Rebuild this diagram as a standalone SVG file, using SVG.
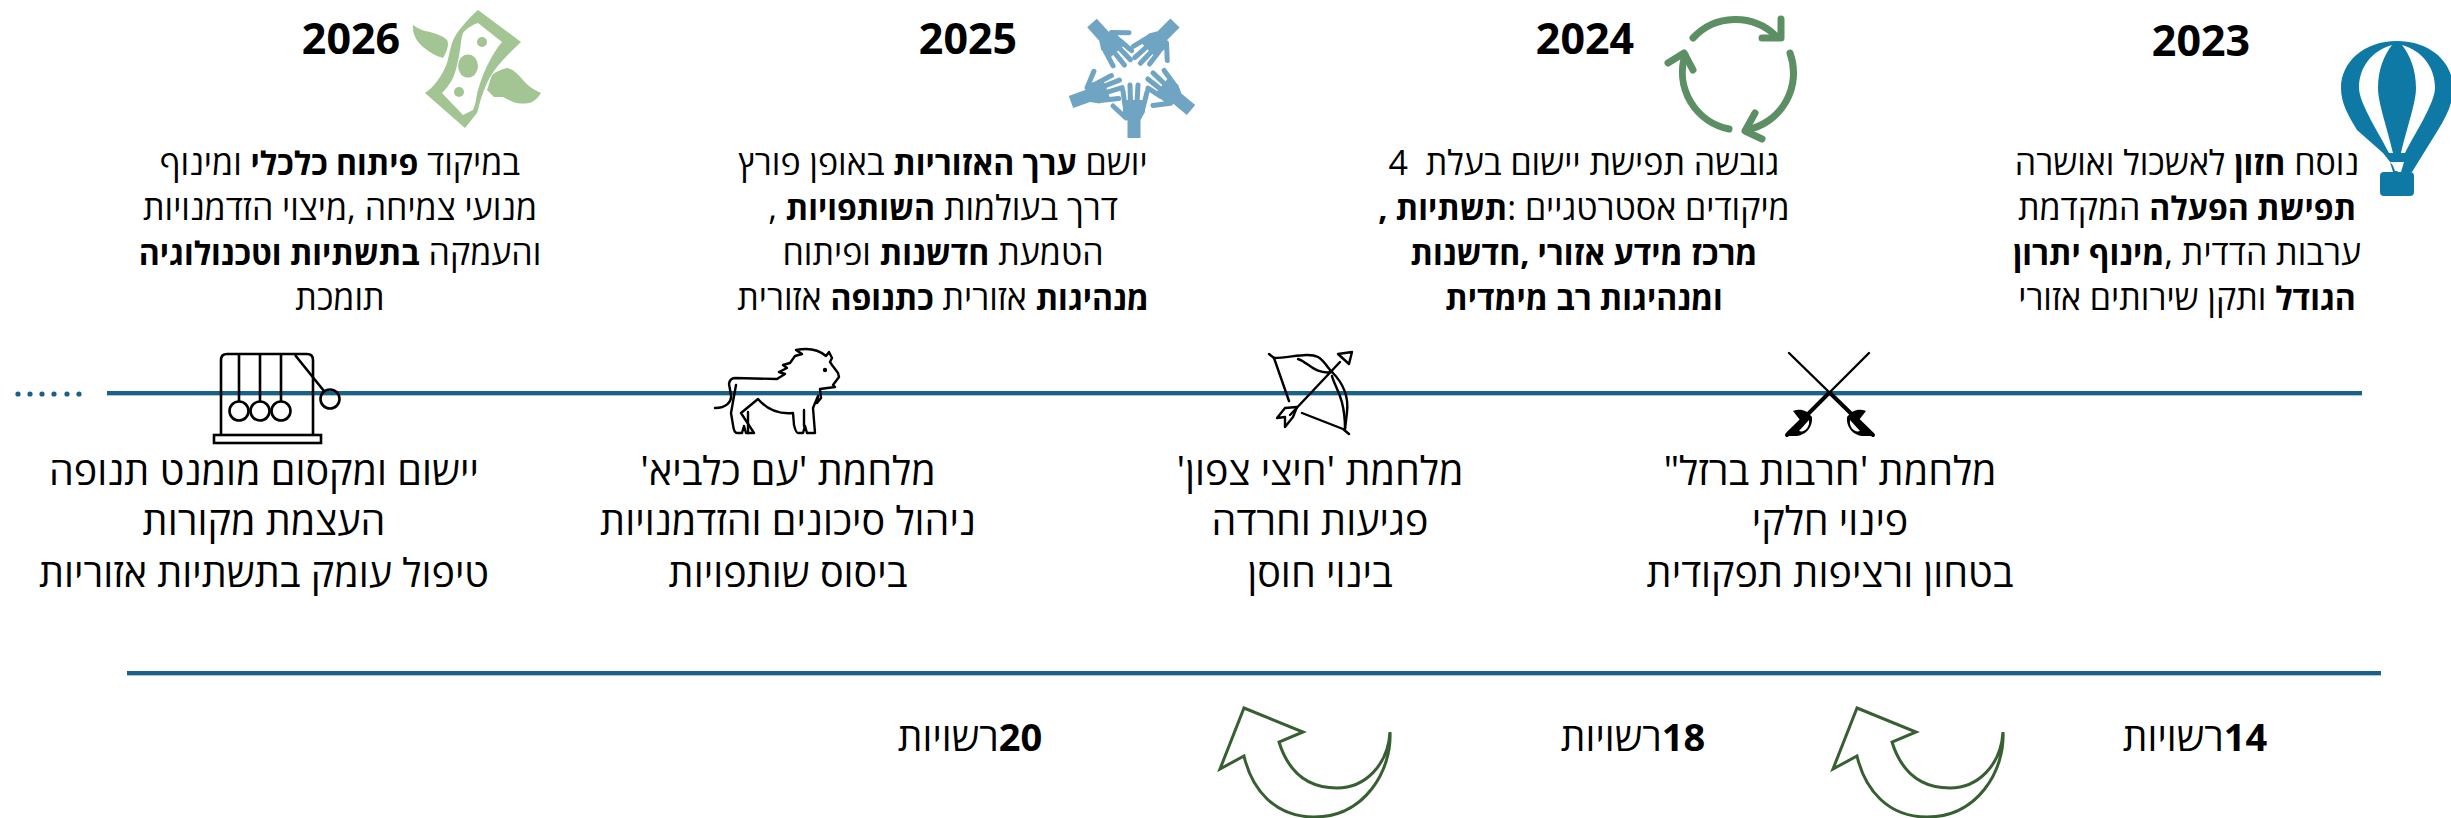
<svg xmlns="http://www.w3.org/2000/svg" xmlns:xlink="http://www.w3.org/1999/xlink" width="2451" height="818" viewBox="0 0 2451 818">
<style>
text{font-family:"Open Sans","Liberation Sans",sans-serif;fill:#000;text-anchor:middle;direction:rtl}
.y{font-size:43px;font-weight:700;direction:ltr}
.b{font-size:34px}
.b tspan.s{font-size:32px;font-weight:700}
.w{font-size:39.5px}
.c{font-size:39px}
.c tspan.s{font-size:38px;font-weight:700}
.tl{fill:#1a6188}
.sh{fill:#a9c6d8}
.k{fill:none;stroke:#000;stroke-width:2.4;stroke-linecap:round;stroke-linejoin:round}
.cy{fill:none;stroke:#5c8f64;stroke-width:7;stroke-linecap:round;stroke-linejoin:round}
.ar{fill:#fff;stroke:#375f32;stroke-width:3;stroke-linejoin:miter}
.hand{fill:#6fa5c2;stroke:#6fa5c2}
.mo{fill:#a3c493}
</style>
<defs>
<g id="hand">
<path stroke="none" d="M-6.5 0V-18L-11 -25V-38H11V-26L6.5 -18V0Z"/>
<g fill="none" stroke-width="5" stroke-linecap="round"><path d="M-9 -32L-11 -47"/><path d="M-3.5 -35L-4 -53"/><path d="M3 -35L4 -53"/><path d="M9 -30L13 -46"/><path d="M-8 -20L-21 -32"/></g>
</g>
<path id="curl" d="M1244 708L1303 732L1279 742C1289 774 1309 788 1337 788C1365 788 1388 765 1390 732C1392 770 1365 817 1314 817C1275 817 1252 790 1244 756L1220 769Z"/>
</defs>

<g id="connectors">
<rect class="tl" x="107" y="391" width="2255" height="4"/><rect class="sh" x="107" y="395" width="2255" height="1"/>
<rect class="tl" x="127" y="671" width="2254" height="4"/><rect class="sh" x="127" y="675" width="2254" height="1"/>
<g class="tl"><circle cx="18" cy="394" r="2.6"/><circle cx="30" cy="394" r="2.6"/><circle cx="42" cy="394" r="2.6"/><circle cx="54" cy="394" r="2.6"/><circle cx="67" cy="394" r="2.6"/><circle cx="79" cy="394" r="2.6"/></g>
<use id="curve-arrow-1" xlink:href="#curl" href="#curl" class="ar"/>
<use id="curve-arrow-2" xlink:href="#curl" href="#curl" class="ar" transform="translate(613 0)"/>
</g>

<g id="node-2023">
<text class="y" x="2201" y="56">2023</text>
<path fill="#0f79a5" fill-rule="evenodd" d="M2397 41C2430 41 2453 62 2453 88C2453 103 2447 115 2438 130L2412 172H2410Q2414 172 2414 176V192Q2414 196 2410 196H2384Q2380 196 2380 192V176Q2380 172 2384 172H2393L2390 162H2404L2401 172H2398L2383 153L2357 130C2348 115 2341 103 2341 88C2341 62 2364 41 2397 41Z"/>
<path fill="#fff" d="M2392 45C2371 51 2359 68 2359 88C2359 103 2380 135 2389 153H2393C2387 127 2378 103 2378 88C2378 70 2384 55 2392 45ZM2402 45C2423 51 2435 68 2435 88C2435 103 2414 135 2405 153H2401C2407 127 2416 103 2416 88C2416 70 2410 55 2402 45ZM2392 163H2403L2400 171H2395Z"/>
<text class="b" x="2187" y="175">נוסח <tspan class="s">חזון</tspan> לאשכול ואושרה</text>
<text class="b" x="2187" y="220"><tspan class="s">תפישת הפעלה</tspan> המקדמת</text>
<text class="b" x="2187" y="265">ערבות הדדית ,<tspan class="s">מינוף יתרון</tspan></text>
<text class="b" x="2187" y="310"><tspan class="s">הגודל</tspan> ותקן שירותים אזורי</text>
</g>

<g id="node-2024">
<text class="y" x="1585" y="54">2024</text>
<g class="cy">
<path d="M1693 38A58 58 0 0 1 1776 36"/><path d="M1781 19V38H1762"/>
<path d="M1790 53A58 58 0 0 1 1746 130"/><path d="M1755 113L1745 131L1762 139"/>
<path d="M1729 129A58 58 0 0 1 1685 55"/><path d="M1668 63L1684 53L1693 70"/>
</g>
<text class="b" x="1584" y="175">גובשה תפישת יישום בעלת&#160; 4</text>
<text class="b" x="1584" y="220">מיקודים אסטרטגיים :<tspan class="s">תשתיות ,</tspan></text>
<text class="b" x="1584" y="265"><tspan class="s">מרכז מידע אזורי ,חדשנות</tspan></text>
<text class="b" x="1584" y="310"><tspan class="s">ומנהיגות רב מימדית</tspan></text>
</g>

<g id="node-2025">
<text class="y" x="968" y="54">2025</text>
<g class="hand">
<use xlink:href="#hand" href="#hand" transform="translate(1134 138)"/>
<use xlink:href="#hand" href="#hand" transform="translate(1071 102) rotate(70)"/>
<use xlink:href="#hand" href="#hand" transform="translate(1092 23) rotate(138)"/>
<use xlink:href="#hand" href="#hand" transform="translate(1175 23) rotate(-135)"/>
<use xlink:href="#hand" href="#hand" transform="translate(1191 110) rotate(-50)"/>
</g>
<text class="b" x="943" y="175">יושם <tspan class="s">ערך האזוריות</tspan> באופן פורץ</text>
<text class="b" x="943" y="220">דרך בעולמות <tspan class="s">השותפויות</tspan> ,</text>
<text class="b" x="943" y="265">הטמעת <tspan class="s">חדשנות</tspan> ופיתוח</text>
<text class="b" x="943" y="310"><tspan class="s">מנהיגות</tspan> אזורית <tspan class="s">כתנופה</tspan> אזורית</text>
</g>

<g id="node-2026">
<text class="y" x="351" y="54">2026</text>
<path class="mo" fill-rule="evenodd" d="M478 10L521 42C510 52 503 60 497 67C490 76 486 84 483 93C480 100 479 107 477 113L465 128L425 93C432 88 435 84 438 80C442 74 445 69 447 63C449 56 450 49 452 43C456 32 467 20 478 10ZM478 23C472 25 466 29 463 33C461 38 461 44 460 50C458 62 456 72 452 80C449 85 446 89 442 93L463 115L473 110C476 104 476 97 478 90C482 76 490 56 502 42Z"/>
<ellipse class="mo" cx="468" cy="66" rx="10" ry="11.5"/><circle class="mo" cx="482" cy="42" r="5"/><circle class="mo" cx="459" cy="92" r="5"/>
<path class="mo" d="M413 25C420 30 425 31 430 32C437 34 443 36 447 40C449 43 448 50 443 58C436 56 429 52 423 47C417 42 412 34 413 25ZM492 75C497 71 502 69 507 68C513 69 518 74 523 80C528 86 534 90 541 93C538 98 535 100 532 102C527 104 519 104 513 102L503 97L494 97L487 90C489 85 490 80 492 75Z"/>
<text class="b" x="340" y="175">במיקוד <tspan class="s">פיתוח כלכלי</tspan> ומינוף</text>
<text class="b" x="340" y="220">מנועי צמיחה ,מיצוי הזדמנויות</text>
<text class="b" x="340" y="265">והעמקה <tspan class="s">בתשתיות וטכנולוגיה</tspan></text>
<text class="b" x="340" y="310">תומכת</text>
</g>

<g id="node-war-swords">
<path class="k" d="M1789 353L1873 435M1869 353L1787 435"/>
<path class="k" style="stroke-width:4" d="M1830 393L1873 435M1829 393L1787 435"/>
<path fill-rule="evenodd" d="M1793 411C1800 408 1807 410 1812 417C1813 428 1805 436 1795 436H1788C1786 434 1786 432 1788 431L1800 420ZM1809 420L1799 431C1804 433 1810 428 1809 420Z"/>
<path fill-rule="evenodd" d="M1866 411C1859 408 1852 410 1847 417C1846 428 1854 436 1864 436H1871C1873 434 1873 432 1871 431L1859 420ZM1850 420L1860 431C1855 433 1849 428 1850 420Z"/>
<text class="w" x="1830" y="485">מלחמת 'חרבות ברזל"</text>
<text class="w" x="1830" y="535">פינוי חלקי</text>
<text class="w" x="1830" y="587">בטחון ורציפות תפקודית</text>
</g>

<g id="node-war-arrows">
<g class="k">
<path d="M1269 354L1274 358L1289 401M1302 413L1343 429L1349 434"/>
<path d="M1274 358C1290 358 1308 352 1318 357C1325 361 1328 369 1332 372"/>
<path d="M1298 359C1308 362 1315 375 1332 372"/>
<path d="M1332 372C1343 383 1349 395 1347 412L1345 429"/>
<path d="M1332 376C1334 386 1345 396 1345 429"/>
<path d="M1290 415L1340 362"/>
<path d="M1338 354L1352 352L1349 364Z"/>
<path d="M1297 407L1285 408L1277 418L1285 417L1285 427L1293 417Z"/>
</g>
<text class="w" x="1320" y="485">מלחמת 'חיצי צפון'</text>
<text class="w" x="1320" y="535">פגיעות וחרדה</text>
<text class="w" x="1320" y="587">בינוי חוסן</text>
</g>

<g id="node-war-lion">
<path class="k" d="M715 408C726 408 732 402 731 395L729 384Q730 378 735 378L777 379L785 374L779 372L787 368L783 365L790 363L795 356L802 354L796 350C806 348 818 349 826 356L829 352L832 358L830 362L832 365L838 373L839 377L833 385L835 387L820 389L821 398L817 403L818 396L813 408L815 433H807L805 426L803 433H798Q796 433 794 425L793 413C783 414 770 413 758 399L741 413L754 433H746L744 426L742 433H737Q734 433 733 425L731 413L736 385"/>
<path class="k" d="M748 412V433M804 410V426"/>
<circle cx="825" cy="370" r="2.2"/>
<text class="w" x="788" y="485">מלחמת 'עם כלביא'</text>
<text class="w" x="788" y="535">ניהול סיכונים והזדמנויות</text>
<text class="w" x="788" y="587">ביסוס שותפויות</text>
</g>

<g id="node-war-cradle">
<g fill="none" stroke="#000" stroke-width="2.6">
<path d="M221 435V360Q221 354 227 354H307Q313 354 313 360V435"/>
<rect x="214" y="435" width="107" height="8"/>
<path d="M239 354V401M260 354V401M281 354V401M295 355L324 391"/>
<circle cx="239" cy="411" r="9.5"/><circle cx="260" cy="411" r="9.5"/><circle cx="281" cy="411" r="9.5"/><circle cx="330" cy="399" r="9.5"/>
</g>
<text class="w" x="264" y="485">יישום ומקסום מומנט תנופה</text>
<text class="w" x="264" y="535">העצמת מקורות</text>
<text class="w" x="264" y="587">טיפול עומק בתשתיות אזוריות</text>
</g>

<g id="node-count-14"><text class="c" x="2195" y="751"><tspan class="s">14</tspan>רשויות</text></g>
<g id="node-count-18"><text class="c" x="1633" y="751"><tspan class="s">18</tspan>רשויות</text></g>
<g id="node-count-20"><text class="c" x="970" y="751"><tspan class="s">20</tspan>רשויות</text></g>
</svg>
